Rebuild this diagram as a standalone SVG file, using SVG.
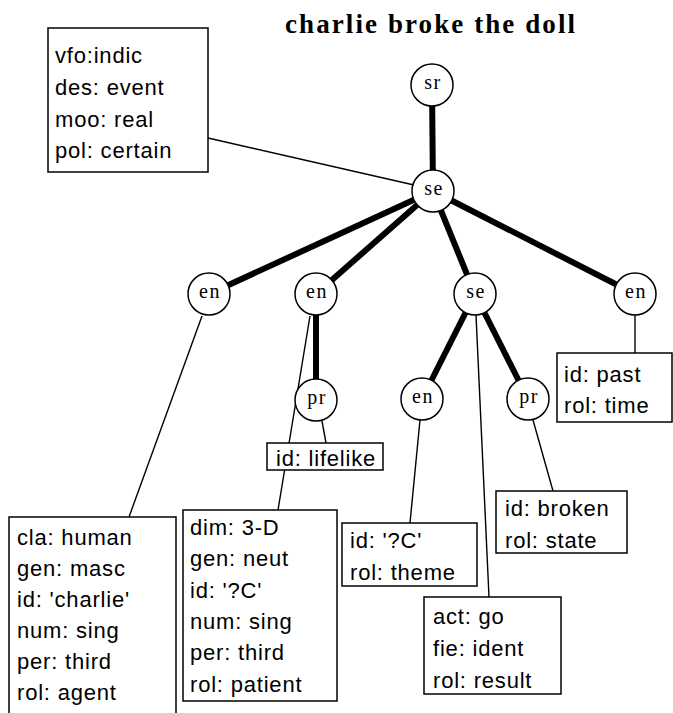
<svg xmlns="http://www.w3.org/2000/svg" width="673" height="713" viewBox="0 0 673 713">
<style>
.bg{fill:#fff}
.title{font-family:"Liberation Serif",serif;font-weight:bold;font-size:27px;fill:#000}
.node circle{fill:#fff;stroke:#000;stroke-width:1.5}
.node text{font-family:"Liberation Serif",serif;font-size:20px;letter-spacing:1.5px;fill:#000;text-anchor:middle}
.thick{stroke:#000;stroke-width:6;fill:none}
.thin{stroke:#000;stroke-width:1.4;fill:none}
.box rect{fill:#fff;stroke:#000;stroke-width:1.5}
.box text{font-family:"Liberation Sans",Arial,sans-serif;font-size:22px;letter-spacing:0.8px;fill:#000}
</style>
<rect class="bg" x="0" y="0" width="673" height="713"/>
<text class="title" x="285" y="33" textLength="290" lengthAdjust="spacing">charlie broke the doll</text>

<g id="connectors">
  <line class="thick" x1="432" y1="85" x2="433" y2="191"/>
  <line class="thick" x1="433" y1="191" x2="209" y2="294"/>
  <line class="thick" x1="433" y1="191" x2="316" y2="294"/>
  <line class="thick" x1="433" y1="191" x2="475" y2="294"/>
  <line class="thick" x1="433" y1="191" x2="635" y2="294"/>
  <line class="thick" x1="316" y1="294" x2="316" y2="400"/>
  <line class="thick" x1="475" y1="294" x2="422" y2="399"/>
  <line class="thick" x1="475" y1="294" x2="528" y2="399"/>
  <line class="thin" x1="208" y1="138" x2="414" y2="185"/>
  <line class="thin" x1="202" y1="316" x2="129" y2="517"/>
  <line class="thin" x1="310" y1="316" x2="278" y2="510"/>
  <line class="thin" x1="322" y1="421" x2="326" y2="443"/>
  <line class="thin" x1="635" y1="315" x2="635" y2="353"/>
  <line class="thin" x1="420" y1="420" x2="410" y2="523"/>
  <line class="thin" x1="476" y1="315" x2="489" y2="597"/>
  <line class="thin" x1="533" y1="420" x2="553" y2="491"/>
</g>

<g id="n_sr" class="node"><circle cx="432" cy="85" r="21"/><text x="433" y="89">sr</text></g>
<g id="n_se" class="node"><circle cx="433" cy="191" r="21"/><text x="434" y="195">se</text></g>
<g id="n_en1" class="node"><circle cx="209" cy="294" r="21"/><text x="210" y="298">en</text></g>
<g id="n_en2" class="node"><circle cx="316" cy="294" r="21"/><text x="317" y="298">en</text></g>
<g id="n_se2" class="node"><circle cx="475" cy="294" r="21"/><text x="476" y="298">se</text></g>
<g id="n_en4" class="node"><circle cx="635" cy="294" r="21"/><text x="636" y="298">en</text></g>
<g id="n_pr1" class="node"><circle cx="316" cy="400" r="21"/><text x="317" y="404">pr</text></g>
<g id="n_en5" class="node"><circle cx="422" cy="399" r="21"/><text x="423" y="403">en</text></g>
<g id="n_pr2" class="node"><circle cx="528" cy="399" r="21"/><text x="529" y="403">pr</text></g>

<g id="b_se" class="box">
  <rect x="48" y="28" width="160" height="144"/>
  <text x="55" y="63">vfo:indic</text>
  <text x="55" y="95">des: event</text>
  <text x="55" y="127">moo: real</text>
  <text x="55" y="158">pol: certain</text>
</g>
<g id="b_en1" class="box">
  <rect x="9" y="517" width="167" height="210"/>
  <text x="17" y="545">cla: human</text>
  <text x="17" y="576">gen: masc</text>
  <text x="17" y="607">id: 'charlie'</text>
  <text x="17" y="638">num: sing</text>
  <text x="17" y="669">per: third</text>
  <text x="17" y="700">rol: agent</text>
</g>
<g id="b_en2" class="box">
  <rect x="183" y="510" width="154" height="191"/>
  <text x="190" y="535">dim: 3-D</text>
  <text x="190" y="566">gen: neut</text>
  <text x="190" y="598">id: '?C'</text>
  <text x="190" y="629">num: sing</text>
  <text x="190" y="660">per: third</text>
  <text x="190" y="692">rol: patient</text>
</g>
<g id="b_pr1" class="box">
  <rect x="267" y="443" width="116" height="27"/>
  <text x="276" y="466">id: lifelike</text>
</g>
<g id="b_en5" class="box">
  <rect x="342" y="523" width="135" height="63"/>
  <text x="350" y="548">id: '?C'</text>
  <text x="350" y="580">rol: theme</text>
</g>
<g id="b_pr2" class="box">
  <rect x="496" y="491" width="131" height="62"/>
  <text x="505" y="516">id: broken</text>
  <text x="505" y="548">rol: state</text>
</g>
<g id="b_se2" class="box">
  <rect x="424" y="597" width="137" height="97"/>
  <text x="433" y="624">act: go</text>
  <text x="433" y="656">fie: ident</text>
  <text x="433" y="688">rol: result</text>
</g>
<g id="b_en4" class="box">
  <rect x="557" y="353" width="115" height="69"/>
  <text x="564" y="382">id: past</text>
  <text x="564" y="413">rol: time</text>
</g>
</svg>
